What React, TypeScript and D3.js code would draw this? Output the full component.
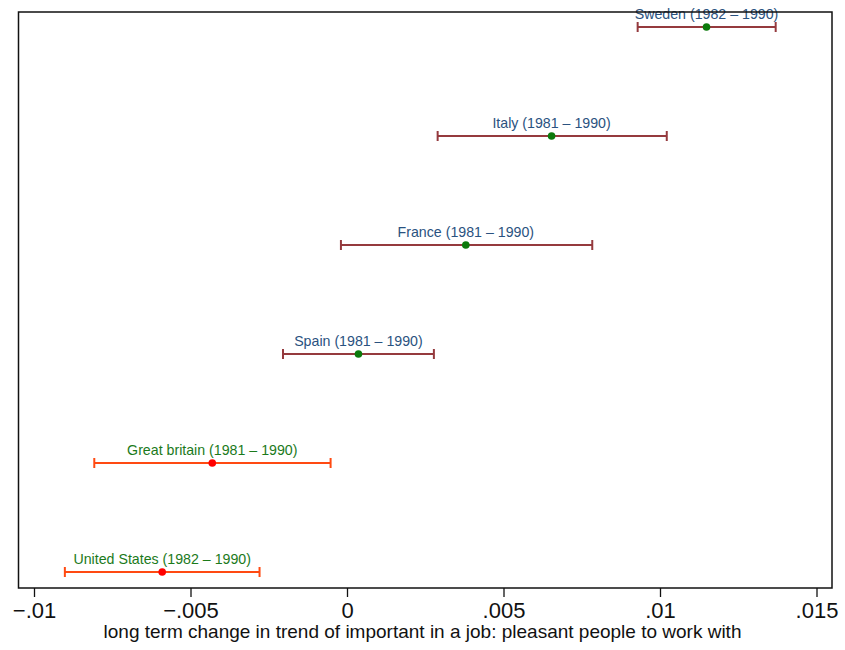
import React from "react";
import * as d3 from "d3";

// Countries from bottom row to top row
const countries = [
  "United States (1982 – 1990)",
  "Great britain (1981 – 1990)",
  "Spain (1981 – 1990)",
  "France (1981 – 1990)",
  "Italy (1981 – 1990)",
  "Sweden (1982 – 1990)",
];
const estimates = [-0.00592, -0.00432, 0.00035, 0.00378, 0.00652, 0.01147];
const lowerBounds = [-0.00903, -0.00809, -0.00206, -0.00021, 0.00288, 0.00927];
const upperBounds = [-0.00281, -0.00054, 0.00276, 0.00782, 0.0102, 0.01368];
// Whether the interval is reported as significant (changes color scheme)
const significant = [false, false, true, true, true, true];

const xTicks = [-0.01, -0.005, 0, 0.005, 0.01, 0.015];
const xTickLabels = ["−.01", "−.005", "0", ".005", ".01", ".015"];
const xTitle = "long term change in trend of important in a job: pleasant people to work with";

const W = 845;
const H = 650;
const frame = { left: 18.5, right: 832, top: 12, bottom: 588 };

export default function App() {
  const x = d3.scaleLinear().domain([-0.01, 0.015]).range([34.5, 817]);
  const y = d3.scaleLinear().domain([0, countries.length - 1]).range([572, 27]);
  const font = "'Liberation Sans', Arial, Helvetica, sans-serif";

  return (
    <svg
      width={W}
      height={H}
      style={{ position: "absolute", left: 0, top: 0, background: "#fff" }}
      fontFamily={font}
    >
      <rect x={0} y={0} width={W} height={H} fill="#fff" />
      {countries.map((c, i) => {
        const yy = y(i);
        const lineColor = significant[i] ? "#953a3e" : "#ff4a12";
        const dotColor = significant[i] ? "#0c7a0c" : "#ff0000";
        const textColor = significant[i] ? "#2a5280" : "#1b7a1b";
        const x0 = x(lowerBounds[i]);
        const x1 = x(upperBounds[i]);
        return (
          <g key={c}>
            <line x1={x0} x2={x1} y1={yy} y2={yy} stroke={lineColor} strokeWidth={2} />
            <line x1={x0} x2={x0} y1={yy - 5} y2={yy + 5} stroke={lineColor} strokeWidth={2} />
            <line x1={x1} x2={x1} y1={yy - 5} y2={yy + 5} stroke={lineColor} strokeWidth={2} />
            <circle cx={x(estimates[i])} cy={yy} r={3.8} fill={dotColor} />
            <text
              x={x(estimates[i])}
              y={yy - 8}
              textAnchor="middle"
              fontSize={14.2}
              fill={textColor}
            >
              {c}
            </text>
          </g>
        );
      })}
      <rect
        x={frame.left}
        y={frame.top}
        width={frame.right - frame.left}
        height={frame.bottom - frame.top}
        fill="none"
        stroke="#111"
        strokeWidth={1.5}
      />
      {xTicks.map((t, i) => (
        <g key={t}>
          <line x1={x(t)} x2={x(t)} y1={frame.bottom} y2={frame.bottom + 9} stroke="#111" strokeWidth={1.3} />
          <text x={x(t)} y={618} textAnchor="middle" fontSize={22} fill="#111">
            {xTickLabels[i]}
          </text>
        </g>
      ))}
      <text x={422.5} y={638} textAnchor="middle" fontSize={19} fill="#111">
        {xTitle}
      </text>
    </svg>
  );
}
